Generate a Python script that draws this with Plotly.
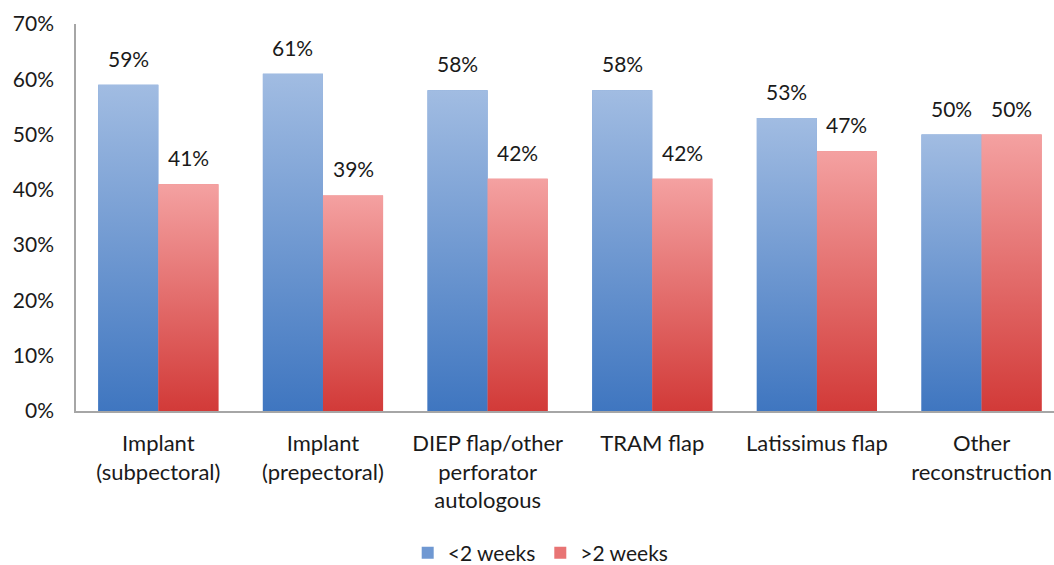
import plotly.graph_objects as go

categories = [
    "Implant<br>(subpectoral)",
    "Implant<br>(prepectoral)",
    "DIEP flap/other<br>perforator<br>autologous",
    "TRAM flap",
    "Latissimus flap",
    "Other<br>reconstruction",
]
under_2_weeks = [59, 61, 58, 58, 53, 50]
over_2_weeks = [41, 39, 42, 42, 47, 50]
series_names = ["<2 weeks", ">2 weeks"]

FONT = "Lato, 'Open Sans', sans-serif"
TEXT_COLOR = "#1a1a1a"
BARGAP = 0.27
BAR_W = (1 - BARGAP) / 2
blue_scale = [[0, "#3f76c0"], [1, "#a1bce2"]]
red_scale = [[0, "#d23a38"], [1, "#f4a1a1"]]
mid_colors = ["#6f98d2", "#e87474"]

x_idx = list(range(len(categories)))

fig = go.Figure()

# Real grouped bars (carry the data and the legend)
for s, vals in enumerate([under_2_weeks, over_2_weeks]):
    fig.add_trace(
        go.Bar(
            x=x_idx,
            y=vals,
            name=series_names[s],
            marker=dict(color=mid_colors[s], line=dict(width=0)),
            hoverinfo="skip",
        )
    )

# Vertical gradient overlay on each bar (same geometry as the bars)
annotations = []
for s, (vals, scale, offset) in enumerate(
    [(under_2_weeks, blue_scale, -BAR_W), (over_2_weeks, red_scale, 0.0)]
):
    for i, v in enumerate(vals):
        x0 = i + offset
        x1 = x0 + BAR_W
        fig.add_trace(
            go.Scatter(
                x=[x0, x0, x1, x1, x0],
                y=[0, v, v, 0, 0],
                mode="lines",
                fill="toself",
                line=dict(width=0, color=scale[0][1]),
                fillgradient=dict(type="vertical", colorscale=scale),
                showlegend=False,
                hoverinfo="skip",
            )
        )
        annotations.append(
            dict(
                x=(x0 + x1) / 2,
                y=v,
                xref="x",
                yref="y",
                text=f"{v}%",
                showarrow=False,
                yanchor="bottom",
                yshift=12,
                font=dict(family=FONT, size=21, color=TEXT_COLOR),
            )
        )

fig.update_layout(
    width=1054,
    height=565,
    margin=dict(l=76, r=0, t=24, b=154),
    paper_bgcolor="white",
    plot_bgcolor="white",
    barmode="group",
    bargap=BARGAP,
    bargroupgap=0,
    font=dict(family=FONT, size=21, color=TEXT_COLOR),
    showlegend=True,
    legend=dict(
        orientation="h",
        xref="container",
        yref="container",
        x=0.513,
        xanchor="center",
        y=0.021,
        yanchor="middle",
        font=dict(family=FONT, size=21, color=TEXT_COLOR),
        itemwidth=30,
        tracegroupgap=0,
    ),
    annotations=annotations,
    xaxis=dict(
        range=[-0.5, 5.44],
        tickvals=x_idx,
        ticktext=categories,
        tickfont=dict(family=FONT, size=22, color=TEXT_COLOR),
        showgrid=False,
        zeroline=False,
        showline=True,
        linecolor="#a6a6a6",
        linewidth=1.5,
        ticks="",
        ticklabelstandoff=12,
        automargin=False,
        fixedrange=True,
    ),
    yaxis=dict(
        range=[0, 70],
        dtick=10,
        ticksuffix="%",
        tickfont=dict(family=FONT, size=21, color=TEXT_COLOR),
        showgrid=False,
        zeroline=False,
        showline=True,
        linecolor="#a6a6a6",
        linewidth=1.5,
        ticks="",
        ticklabelstandoff=16,
        automargin=False,
        fixedrange=True,
    ),
)

fig.write_html(
    "out.html",
    config={"displayModeBar": False},
    post_script="document.body.style.margin='0';document.body.style.padding='0';",
)
